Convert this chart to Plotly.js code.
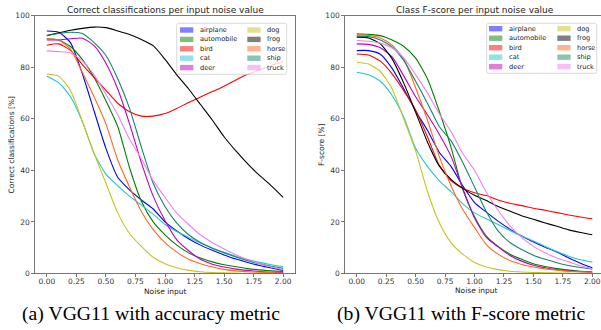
<!DOCTYPE html>
<html>
<head>
<meta charset="utf-8">
<script src="https://cdn.plot.ly/plotly-3.0.1.min.js"></script>
<style>
html,body{margin:0;padding:0;background:#fff;}
#chart{width:601px;height:330px;}
</style>
</head>
<body>
<div id="chart"></div>
<script>
// ---------------- data ----------------
const noise = [0.0,0.1,0.2,0.3,0.4,0.5,0.6,0.7,0.8,0.9,1.0,1.1,1.2,1.3,1.4,1.5,1.6,1.7,1.8,1.9,2.0];
const classes = ['airplane','automobile','bird','cat','deer','dog','frog','horse','ship','truck'];
const colors = ['#0000ff','#008000','#ff0000','#20c8cc','#bf00bf','#c4c420','#000000','#ff6820','#12876a','#ee82ee'];

// (a) correct classifications [%]
const accAirplane   = [94,93.5,89.5,77.5,63,48.5,37.3,32.4,28.5,25,20,16.5,13.5,11,9,7.2,5.6,4.3,3.1,2.1,1.2];
const accAutomobile = [91,90.5,88,83,76,67,57,41,28,20,15,11,8,6,4.5,3.4,2.6,1.9,1.4,1.0,0.8];
const accBird       = [88.5,89,86.5,81,76,71,66,62.7,61,61,62,64,66.3,68.4,70.5,72.6,75,77.2,78.9,80.6,82.2];
const accCat        = [76.5,74,68.5,59,46.5,38.5,34,30,26.5,23,19,16.3,14,11.8,9.9,8.2,6.7,5.4,4.3,3.4,2.7];
const accDeer       = [90.5,90.5,91,91.2,88.3,81.5,71.5,58,43,30,20.5,13,8.8,5.5,3.6,2.5,1.7,1.2,0.8,0.5,0.4];
const accDog        = [77.3,76.5,71,59,46.5,35,23.5,15.5,10.5,6.3,3.8,2.2,1.2,0.7,0.4,0.25,0.15,0.1,0.05,0.05,0.03];
const accFrog       = [92.2,93.3,94.3,95,95.5,95.3,94,92.6,90.7,88.3,83,77,71.5,65.5,59.5,53,47.5,42.5,38,34,29.5];
const accHorse      = [91,90.5,87,78,68.5,58,44,33.5,24,17,12,8.3,5.5,3.8,2.5,1.6,1.0,0.7,0.5,0.3,0.2];
const accShip       = [92.2,93,93.5,93,89.5,84.5,75.5,64,49,35,26,19.5,15,12,9.8,8,6.4,5,3.8,2.8,2.0];
const accTruck      = [86.3,86,85.5,82.5,77,69.5,61.5,52,44.5,36,29.5,23.4,19,15,12,9.5,7.3,5.4,3.8,2.5,1.5];

// (b) class F-score [%]
const fAirplane   = [86.4,86.4,85,79.5,71.5,63,55.5,47,41.5,34,27.5,23.8,20.3,17.2,14.5,12.2,10.2,8.3,6,4,2.2];
const fAutomobile = [92.9,92.7,92.2,90.5,88,83.5,75.5,63,49,32.5,22,14.5,10.5,7.5,5.5,3.8,2.7,1.9,1.3,0.9,0.7];
const fBird       = [85.1,84.7,82.3,77.4,70.8,63.3,53,42,36,33,31.3,30.2,28.5,27.2,26.3,25.3,24.5,23.6,22.7,21.9,21.2];
const fCat        = [78,77,74.5,69,60.5,48.5,41.5,36,31.7,27,23.5,21.2,19,16.7,14.5,12.6,10.5,8.5,6.7,5.3,4.4];
const fDeer       = [89,88.8,87.5,84,76.5,68.5,61.5,54,45.5,33,21.5,14,10.3,7,4.8,3.2,2.2,1.5,1,0.7,0.5];
const fDog        = [81.9,81.2,78.3,71.6,59.8,47.5,31.8,19.8,12,7.5,4.3,2.5,1.5,0.9,0.6,0.4,0.3,0.2,0.15,0.1,0.1];
const fFrog       = [91.6,91.3,89,83.2,73.7,62.5,51,41.7,36.5,33,30.3,28.3,26,24.2,22.4,21,19.6,18.3,16.9,15.9,15];
const fHorse      = [92.5,92.3,91.3,88.5,83,72,59.5,45.5,34,24.8,17.8,11.2,7.5,5,3.5,2.5,1.8,1.3,0.9,0.7,0.5];
const fShip       = [92,91.8,90.5,87.8,82.5,74.5,66,57,51.5,43,33.5,24,16.5,12,9.3,7.1,5.5,4.2,3.1,2.3,1.7];
const fTruck      = [90.3,90,89.3,87.5,83.5,77,70,62,55,46.5,40,31.5,24.5,18.5,14,10.5,8,6,4.5,3,1.8];

const xTicks = [0,0.25,0.5,0.75,1.0,1.25,1.5,1.75,2.0];
const yTicks = [0,20,40,60,80,100];
const titleA = 'Correct classifications per input noise value';
const titleB = 'Class F-score per input noise value';
const ylabA = 'Correct classifications [%]';
const ylabB = 'F-score [%]';
const xlab = 'Noise input';
const captionA = '(a) VGG11 with accuracy metric';
const captionB = '(b) VGG11 with F-score metric';

const accSeries = [accAirplane,accAutomobile,accBird,accCat,accDeer,accDog,accFrog,accHorse,accShip,accTruck];
const fSeries = [fAirplane,fAutomobile,fBird,fCat,fDeer,fDog,fFrog,fHorse,fShip,fTruck];

// ---------------- layout helpers ----------------
const W = 601, H = 330;
const px = x => x / W;
const py = y => 1 - y / H;
const FONT = 'DejaVu Sans, sans-serif';

const traces = [];
classes.forEach((c, i) => {
  traces.push({x: noise, y: accSeries[i], type: 'scatter', mode: 'lines', name: c,
    xaxis: 'x', yaxis: 'y', showlegend: false,
    line: {color: colors[i], width: 1.1, shape: 'spline', smoothing: 0.6}, hoverinfo: 'skip'});
});
classes.forEach((c, i) => {
  traces.push({x: noise, y: fSeries[i], type: 'scatter', mode: 'lines', name: c,
    xaxis: 'x2', yaxis: 'y2', showlegend: false,
    line: {color: colors[i], width: 1.1, shape: 'spline', smoothing: 0.6}, hoverinfo: 'skip'});
});

const axisCommon = {
  showgrid: false, zeroline: false, showline: true, linecolor: '#555', linewidth: 0.8,
  ticks: 'outside', ticklen: 3, tickwidth: 0.8, tickcolor: '#555',
  tickfont: {family: FONT, size: 7.5, color: '#333'}, fixedrange: true
};

const yTop = 15.5, yBot = 273.5;
const layout = {
  width: W, height: H,
  margin: {l: 0, r: 0, t: 0, b: 0},
  paper_bgcolor: '#fff', plot_bgcolor: '#fff',
  showlegend: false,
  xaxis: Object.assign({}, axisCommon, {domain: [px(35), px(295)], range: [-0.1, 2.1],
    tickvals: xTicks, tickformat: '.2f', mirror: true, anchor: 'y', ticklabelstandoff: -2}),
  yaxis: Object.assign({}, axisCommon, {domain: [py(yBot), py(yTop)], range: [0, 100],
    tickvals: yTicks, mirror: true, anchor: 'x'}),
  xaxis2: Object.assign({}, axisCommon, {domain: [px(345), 1], range: [-0.1, 2.074],
    tickvals: xTicks, tickformat: '.2f', mirror: true, anchor: 'y2', ticklabelstandoff: -2}),
  yaxis2: Object.assign({}, axisCommon, {domain: [py(yBot), py(yTop)], range: [0, 100],
    tickvals: yTicks, mirror: false, anchor: 'x2'}),
  annotations: [],
  shapes: []
};

function ann(text, x, y, size, opts) {
  return Object.assign({text: text, x: px(x), y: py(y), xref: 'paper', yref: 'paper',
    showarrow: false, xanchor: 'center', yanchor: 'middle',
    font: {family: FONT, size: size, color: '#222'}}, opts || {});
}

layout.annotations.push(ann(titleA, 165, 10, 9));
layout.annotations.push(ann(titleB, 474.7, 9.5, 9));
layout.annotations.push(ann(xlab, 165, 291, 7.5));
layout.annotations.push(ann(xlab, 476.7, 290.5, 7.5));
layout.annotations.push(ann(ylabA, 11, 144.5, 7.5, {textangle: -90}));
layout.annotations.push(ann(ylabB, 321.5, 144.5, 7.5, {textangle: -90}));
const capFont = {family: 'Liberation Serif, Times New Roman, serif', size: 19.7, color: '#000'};
layout.annotations.push(ann(captionA, 150.5, 313.5, 19.7, {font: capFont}));
layout.annotations.push(ann(captionB, 460.5, 313.5, 19.7, {font: capFont}));

function roundRectPath(x0, y0, x1, y1, r) {
  const P = (x, y) => px(x) + ',' + py(y);
  return 'M' + P(x0 + r, y0) + ' L' + P(x1 - r, y0) + ' Q' + P(x1, y0) + ' ' + P(x1, y0 + r) +
    ' L' + P(x1, y1 - r) + ' Q' + P(x1, y1) + ' ' + P(x1 - r, y1) +
    ' L' + P(x0 + r, y1) + ' Q' + P(x0, y1) + ' ' + P(x0, y1 - r) +
    ' L' + P(x0, y0 + r) + ' Q' + P(x0, y0) + ' ' + P(x0 + r, y0) + ' Z';
}

function legend(x0, y0, x1, y1, rows, col1, col2) {
  layout.shapes.push({type: 'path', xref: 'paper', yref: 'paper', path: roundRectPath(x0, y0, x1, y1, 2),
    line: {color: '#d0d0d0', width: 0.8}, fillcolor: 'rgba(255,255,255,0.8)', layer: 'above'});
  classes.forEach((c, i) => {
    const col = i < 5 ? 0 : 1;
    const r = i % 5;
    const cy = rows[r];
    const bx = col === 0 ? col1 : col2;
    layout.shapes.push({type: 'rect', xref: 'paper', yref: 'paper',
      x0: px(bx), x1: px(bx + 13.3), y0: py(cy + 2.7), y1: py(cy - 2.7),
      fillcolor: colors[i], opacity: 0.5, line: {width: 0}, layer: 'above'});
    layout.annotations.push(ann(c, bx + 17.5, cy, 6.6, {xanchor: 'left'}));
  });
}
legend(176.7, 23.3, 286.7, 74.3, [30, 39.4, 48.8, 58.2, 67.6], 180, 247.3);
legend(486.7, 23.3, 596.7, 73.3, [28.7, 38.2, 47.7, 57.2, 66.7], 489, 557.3);

Plotly.newPlot('chart', traces, layout, {staticPlot: true, displayModeBar: false});
</script>
</body>
</html>
